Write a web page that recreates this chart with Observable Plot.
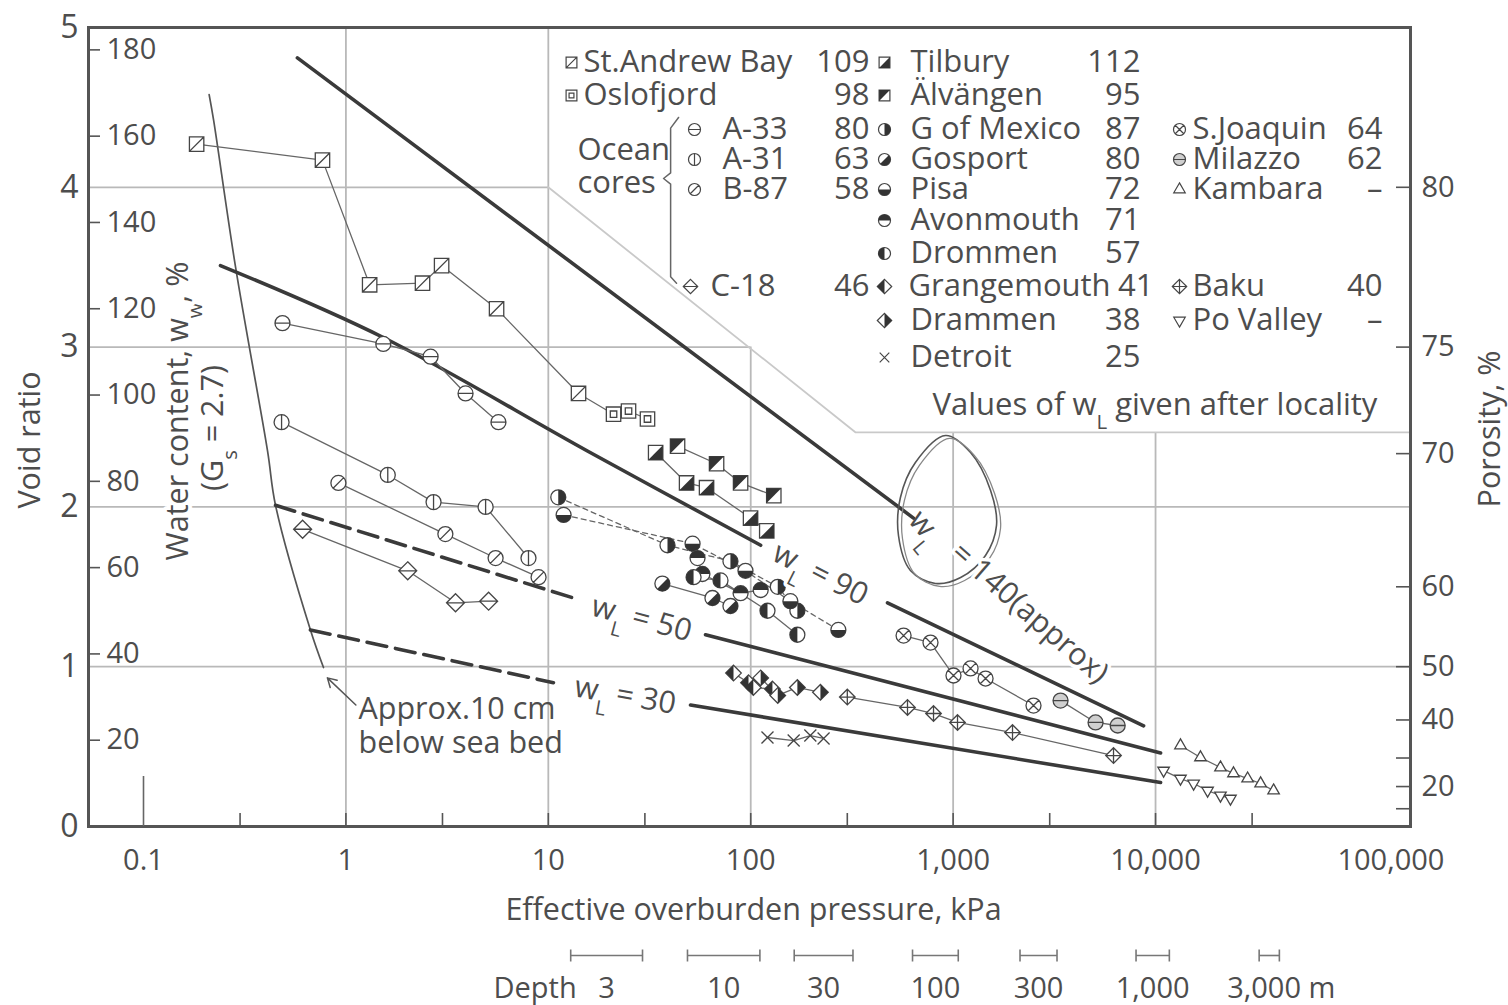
<!DOCTYPE html>
<html>
<head>
<meta charset="utf-8">
<script src="https://cdn.jsdelivr.net/npm/d3@7"></script>
<script src="https://cdn.jsdelivr.net/npm/@observablehq/plot@0.6"></script>
<style>
html,body{margin:0;padding:0;background:#fff;}
#chart svg{display:block;}
</style>
</head>
<body>
<div id="chart"></div>
<script>
// ---------------- axes / ticks ----------------
const xTickValues = [0.1, 1, 10, 100, 1000, 10000, 100000];
const xTickLabels = ["0.1", "1", "10", "100", "1,000", "10,000", "100,000"];
const xMinorTicks = [0.3, 1, 3, 10, 30, 100, 300, 1000, 3000, 10000, 30000];
const voidRatioTicks = [0, 1, 2, 3, 4, 5];
const waterContentTicks = [20, 40, 60, 80, 100, 120, 140, 160, 180];
const specificGravity = 2.7;
const porosityTicks = [10, 20, 30, 40, 50, 60, 70, 75, 80];
const porosityLabels = [20, 40, 50, 60, 70, 75, 80];

// ---------------- depth scale (kPa range for each depth) ----------------
const depthLabels = ["3", "10", "30", "100", "300", "1,000", "3,000 m"];
const depthLow = [12.9, 48.7, 164, 630, 2140, 8010, 32500];
const depthHigh = [29.2, 111, 320, 1060, 3260, 11700, 40900];

// ---------------- series: [effective overburden pressure (kPa), void ratio] ----------------
const seriesNames = ["St.Andrew Bay", "Oslofjord", "A-33", "A-31", "B-87", "C-18", "Tilbury", "Älvängen",
  "G of Mexico", "Gosport", "Pisa", "Avonmouth", "Drommen", "Grangemouth", "Drammen", "Detroit",
  "S.Joaquin", "Milazzo", "Kambara", "Baku", "Po Valley"];
const liquidLimits = ["109", "98", "80", "63", "58", "46", "112", "95", "87", "80", "72", "71", "57", "41", "38", "25",
  "64", "62", "–", "40", "–"];

const stAndrewBay = [[0.183, 4.27], [0.766, 4.17], [1.31, 3.39], [2.39, 3.40], [2.97, 3.51], [5.55, 3.24], [14.1, 2.71]];
const oslofjord = [[21.0, 2.58], [24.9, 2.60], [30.9, 2.55]];
const a33 = [[0.486, 3.15], [1.53, 3.02], [2.62, 2.94], [3.90, 2.71], [5.67, 2.53]];
const a31 = [[0.481, 2.53], [1.61, 2.20], [2.71, 2.03], [4.90, 2.00], [7.98, 1.68]];
const b87 = [[0.918, 2.15], [3.10, 1.83], [5.49, 1.68], [8.95, 1.56]];
const c18 = [[0.611, 1.86], [2.02, 1.60], [3.48, 1.40], [5.07, 1.41]];
const tilbury = [[33.9, 2.34], [48.2, 2.15], [60.5, 2.12], [99.8, 1.93], [120, 1.85]];
const alvangen = [[43.5, 2.38], [67.8, 2.27], [89.1, 2.15], [130, 2.07]];
const gMexico = [[11.2, 2.06], [38.8, 1.76], [79.4, 1.66], [136, 1.50], [170, 1.35]];
const gosport = [[36.6, 1.52], [64.7, 1.43], [79.4, 1.38]];
const pisa = [[11.9, 1.95], [51.6, 1.77], [94.2, 1.60], [157, 1.41], [271, 1.23]];
const avonmouth = [[54.6, 1.68], [57.7, 1.58], [89.1, 1.46], [112, 1.48]];
const drommen = [[52.2, 1.56], [70.9, 1.54], [121, 1.35], [170, 1.20]];
const grangemouth = [[82.2, 0.96], [97.5, 0.90], [103, 0.87], [128, 0.86]];
const drammen = [[112, 0.93], [136, 0.82], [170, 0.87], [221, 0.84]];
const detroit = [[121, 0.557], [163, 0.538], [197, 0.569], [229, 0.551]];
const sJoaquin = [[569, 1.195], [773, 1.151], [1004, 0.945], [1219, 0.989], [1446, 0.926], [2495, 0.757]];
const milazzo = [[3394, 0.788], [5054, 0.651], [6500, 0.632]];
const kambara = [[13280, 0.507], [16670, 0.432], [20930, 0.369], [24270, 0.332], [28500, 0.300], [33040, 0.269], [38300, 0.225]];
const baku = [[300, 0.81], [595, 0.745], [800, 0.707], [1051, 0.651], [1965, 0.588], [6200, 0.444]];
const poValley = [[10960, 0.350], [13280, 0.300], [15420, 0.269], [18080, 0.225], [20930, 0.194], [23450, 0.175]];

// ---------------- reference lines (liquid limit trends) ----------------
const wl140 = [[0.576, 4.81], [637, 1.93]];
const wl90a = [[0.240, 3.51], [1.53, 3.06], [15.6, 2.35], [112, 1.76]];
const wl90b = [[474, 1.40], [8730, 0.63]];
const wl50dashed = [[0.449, 2.01], [13.3, 1.43]];
const wl50 = [[59.8, 1.20], [10590, 0.46]];
const wl30dashed = [[0.668, 1.23], [10.6, 0.90]];
const wl30 = [[50.4, 0.76], [10590, 0.275]];
const seaBed = [[0.211, 4.58], [0.222, 4.42], [0.285, 3.50], [0.410, 2.35], [0.449, 2.01], [0.668, 1.23], [0.775, 0.995]];

// ---------------- annotation geometry (data space) ----------------
const gridVertical = [{at: 1, top: 5}, {at: 10, top: 5}, {at: 100, top: 3}, {at: 1000, top: 2.466}, {at: 10000, top: 2.466}];
const gridHorizontal = [{at: 1, right: 181800}, {at: 2, right: 181800}, {at: 3, right: 100}, {at: 4, right: 10}];
const legendBoundary = [[10, 4], [330, 2.466], [181800, 2.466]];
const wlLoop = [[917, 2.447], [1219, 2.34], [1531, 2.103], [1638, 1.884], [1445, 1.696], [1089, 1.558], [818, 1.521], [615, 1.602], [537, 1.821], [549, 2.059], [651, 2.278]];
const oceanBrace = [[44.0, 4.437], [40.2, 4.37], [40.2, 4.09], [37.1, 4.055], [40.2, 4.02], [40.2, 3.44], [43.0, 3.40]];
const seaBedArrow = [{x1: 1.12, y1: 0.76, x2: 0.81, y2: 0.93}];

// ---------------- rendering ----------------
const xDomain = [0.05349, 181800];
const FX = 88, FY = 27;
const C = {ink: "#3a3a3a", text: "#4d4d4d", grid: "#b9b9b9", sym: "#454545", symFill: "#333", thin: "#666"};
const FONT = 29, TITLE = 30.5, LEG = 31;
const X = d => d[0], Y = d => d[1];

const PI = Math.PI;
const mk = f => ({draw(c, size) { f(c, Math.sqrt(size / PI)); }});
const circ = (c, r) => { c.moveTo(r, 0); c.arc(0, 0, r, 0, 2 * PI); };
const sq = (c, r) => { const s = r * 0.9; c.moveTo(-s, -s); c.lineTo(s, -s); c.lineTo(s, s); c.lineTo(-s, s); c.closePath(); };
const dia = (c, r) => { const s = r * 1.2; c.moveTo(0, -s); c.lineTo(s, 0); c.lineTo(0, s); c.lineTo(-s, 0); c.closePath(); };
const SYM = {
  sqDiag: mk((c, r) => { sq(c, r); const s = r * 0.9; c.moveTo(-s, s); c.lineTo(s, -s); }),
  sqInner: mk((c, r) => { sq(c, r); sq(c, r * 0.45); }),
  circH: mk((c, r) => { circ(c, r); c.moveTo(-r, 0); c.lineTo(r, 0); }),
  circV: mk((c, r) => { circ(c, r); c.moveTo(0, -r); c.lineTo(0, r); }),
  circD: mk((c, r) => { circ(c, r); const k = r * 0.707; c.moveTo(-k, k); c.lineTo(k, -k); }),
  circX: mk((c, r) => { circ(c, r); const k = r * 0.707; c.moveTo(-k, k); c.lineTo(k, -k); c.moveTo(-k, -k); c.lineTo(k, k); }),
  circ: mk(circ),
  sq: mk(sq),
  dia: mk(dia),
  diaH: mk((c, r) => { dia(c, r); c.moveTo(-r * 1.2, 0); c.lineTo(r * 1.2, 0); }),
  diaPlus: mk((c, r) => { dia(c, r); c.moveTo(-r * 1.2, 0); c.lineTo(r * 1.2, 0); c.moveTo(0, -r * 1.2); c.lineTo(0, r * 1.2); }),
  triUp: mk((c, r) => { const s = r * 1.1; c.moveTo(0, -s); c.lineTo(s * 0.87, s * 0.5); c.lineTo(-s * 0.87, s * 0.5); c.closePath(); }),
  triDown: mk((c, r) => { const s = r * 1.1; c.moveTo(0, s); c.lineTo(s * 0.87, -s * 0.5); c.lineTo(-s * 0.87, -s * 0.5); c.closePath(); }),
  cross: mk((c, r) => { const k = r * 0.8; c.moveTo(-k, -k); c.lineTo(k, k); c.moveTo(-k, k); c.lineTo(k, -k); }),
  vbar: mk((c, r) => { c.moveTo(0, -r); c.lineTo(0, r); }),
  fRight: mk((c, r) => { c.moveTo(0, -r); c.arc(0, 0, r, -PI / 2, PI / 2); c.closePath(); }),
  fLeft: mk((c, r) => { c.moveTo(0, r); c.arc(0, 0, r, PI / 2, 3 * PI / 2); c.closePath(); }),
  fBottom: mk((c, r) => { c.moveTo(r, 0); c.arc(0, 0, r, 0, PI); c.closePath(); }),
  fTop: mk((c, r) => { c.moveTo(-r, 0); c.arc(0, 0, r, PI, 2 * PI); c.closePath(); }),
  fDiag: mk((c, r) => { c.moveTo(r * Math.cos(-PI / 4), r * Math.sin(-PI / 4)); c.arc(0, 0, r, -PI / 4, 3 * PI / 4); c.closePath(); }),
  fSqLR: mk((c, r) => { const s = r * 0.9; c.moveTo(s, -s); c.lineTo(s, s); c.lineTo(-s, s); c.closePath(); }),
  fSqUL: mk((c, r) => { const s = r * 0.9; c.moveTo(-s, -s); c.lineTo(s, -s); c.lineTo(-s, s); c.closePath(); }),
  fDiaL: mk((c, r) => { const s = r * 1.2; c.moveTo(0, -s); c.lineTo(0, s); c.lineTo(-s, 0); c.closePath(); }),
  fDiaR: mk((c, r) => { const s = r * 1.2; c.moveTo(0, -s); c.lineTo(s, 0); c.lineTo(0, s); c.closePath(); })
};

const seriesData = [stAndrewBay, oslofjord, a33, a31, b87, c18, tilbury, alvangen, gMexico, gosport, pisa,
  avonmouth, drommen, grangemouth, drammen, detroit, sJoaquin, milazzo, kambara, baku, poValley];
const seriesStyle = [
  {sym: "sqDiag", r: 8}, {sym: "sqInner", r: 8}, {sym: "circH"}, {sym: "circV"}, {sym: "circD"}, {sym: "diaH"},
  {sym: "sq", fill: "fSqLR", r: 8}, {sym: "sq", fill: "fSqUL", r: 8},
  {sym: "circ", fill: "fRight", dash: "5,4"}, {sym: "circ", fill: "fDiag"}, {sym: "circ", fill: "fBottom", dash: "5,4"},
  {sym: "circ", fill: "fTop"}, {sym: "circ", fill: "fLeft"}, {sym: "dia", fill: "fDiaL", r: 6.5}, {sym: "dia", fill: "fDiaR", r: 6.5},
  {sym: "cross"}, {sym: "circX"}, {sym: "circH", bg: "#cfcfcf"}, {sym: "triUp", r: 6}, {sym: "diaPlus", r: 6.5}, {sym: "triDown", r: 6}
];
const legendLayout = [["a", 0], ["a", 1], ["oc", 2], ["oc", 3], ["oc", 4], ["c18", 7],
  ["b", 0], ["b", 1], ["b", 2], ["b", 3], ["b", 4], ["b", 5], ["b", 6], ["bw", 7], ["b", 8], ["b", 9],
  ["c", 2], ["c", 3], ["c", 4], ["c", 7], ["c", 8]];
const legendCols = {
  a: {sym: 571, name: 583, val: 869}, oc: {sym: 694, name: 722, val: 869}, c18: {sym: 690, name: 710, val: 869},
  b: {sym: 884, name: 910, val: 1140}, bw: {sym: 884, name: 908, val: 1153}, c: {sym: 1179, name: 1192, val: 1382}
};
const legendRows = [62, 95, 129, 159, 189, 220, 253, 286, 320, 357];

const marks = [];
// grid
marks.push(Plot.ruleX(gridVertical, {x: d => d.at, y1: () => 0, y2: d => d.top, stroke: C.grid, strokeWidth: 1.8}));
marks.push(Plot.ruleY(gridHorizontal, {y: d => d.at, x1: () => xDomain[0], x2: d => d.right, stroke: C.grid, strokeWidth: 1.8}));
marks.push(Plot.line(legendBoundary, {x: X, y: Y, stroke: "#c9c9c9", strokeWidth: 1.8}));
marks.push(Plot.frame({stroke: "#555", strokeWidth: 3}));

// ticks
marks.push(Plot.ruleX(xMinorTicks, {x: d => d, insetTop: 786, stroke: "#555", strokeWidth: 1.6}));
marks.push(Plot.ruleX([0.1], {x: d => d, insetTop: 749, stroke: "#666", strokeWidth: 1.6}));
marks.push(Plot.ruleY(waterContentTicks, {y: d => d * specificGravity / 100, insetRight: 1310, stroke: "#555", strokeWidth: 1.6}));
marks.push(Plot.ruleY(porosityTicks, {y: n => n / (100 - n), insetLeft: 1308, stroke: "#555", strokeWidth: 1.6}));

// tick labels
const mid = {lineAnchor: "middle"};
marks.push(Plot.text(voidRatioTicks, {y: d => d, text: d => String(d), frameAnchor: "left", textAnchor: "end", dx: -10, fontSize: 32, fill: C.text, ...mid}));
marks.push(Plot.text(waterContentTicks, {y: d => d * specificGravity / 100, text: d => String(d), frameAnchor: "left", textAnchor: "start", dx: 18, fontSize: FONT, fill: C.text, ...mid}));
marks.push(Plot.text(porosityLabels, {y: n => n / (100 - n), text: d => String(d), frameAnchor: "right", textAnchor: "start", dx: 11, fontSize: FONT, fill: C.text, ...mid}));
marks.push(Plot.text(xTickValues.slice(0, 6), {x: d => d, text: (d, i) => xTickLabels[i], frameAnchor: "bottom", dy: 34, fontSize: FONT, fill: C.text, ...mid}));
marks.push(Plot.text(xTickValues.slice(6), {x: d => d, text: () => xTickLabels[6], frameAnchor: "bottom", dy: 34, dx: 33, fontSize: FONT, fill: C.text, ...mid}));

// axis titles
const halo = {stroke: "white", strokeWidth: 8, paintOrder: "stroke"};
marks.push(Plot.text(["Void ratio"], {text: d => d, frameAnchor: "left", textAnchor: "middle", dx: -58, dy: 13, rotate: -90, fontSize: TITLE, fill: C.text, ...mid}));
marks.push(Plot.text(["Water content, w_w, %"], {text: d => d, frameAnchor: "left", textAnchor: "middle", dx: 90, dy: -16, rotate: -90, fontSize: TITLE, fill: C.text, ...halo, ...mid}));
marks.push(Plot.text(["(G_s = 2.7)"], {text: d => d, frameAnchor: "left", textAnchor: "middle", dx: 125, dy: 1, rotate: -90, fontSize: TITLE, fill: C.text, ...halo, ...mid}));
marks.push(Plot.text(["Porosity, %"], {text: d => d, frameAnchor: "right", textAnchor: "middle", dx: 80, dy: 2, rotate: -90, fontSize: TITLE, fill: C.text, ...mid}));
marks.push(Plot.text(["Effective overburden pressure, kPa"], {text: d => d, frameAnchor: "bottom", textAnchor: "middle", dx: 4, dy: 84, fontSize: TITLE, fill: C.text, ...mid}));

// depth scale
const depthIdx = d3.range(depthLabels.length);
marks.push(Plot.link(depthIdx, {x1: i => depthLow[i], x2: i => depthHigh[i], y1: () => 0, y2: () => 0, dy: 129, stroke: "#777", strokeWidth: 1.6}));
marks.push(Plot.dot(depthIdx, {x: i => depthLow[i], y: () => 0, dy: 129, symbol: SYM.vbar, r: 6, fill: "none", stroke: "#777", strokeWidth: 1.6}));
marks.push(Plot.dot(depthIdx, {x: i => depthHigh[i], y: () => 0, dy: 129, symbol: SYM.vbar, r: 6, fill: "none", stroke: "#777", strokeWidth: 1.6}));
marks.push(Plot.text(depthIdx.slice(0, 6), {x: i => Math.sqrt(depthLow[i] * depthHigh[i]), y: () => 0, dy: 162, text: i => depthLabels[i], fontSize: FONT, fill: C.text}));
marks.push(Plot.text(depthIdx.slice(6), {x: i => Math.sqrt(depthLow[i] * depthHigh[i]), y: () => 0, dy: 162, dx: 12, text: i => depthLabels[i], fontSize: FONT, fill: C.text}));
marks.push(Plot.text(["Depth"], {x: () => depthLow[0], y: () => 0, dy: 162, dx: 6, textAnchor: "end", text: d => d, fontSize: FONT, fill: C.text}));

// reference lines
const thick = {x: X, y: Y, stroke: C.ink, strokeWidth: 3.6};
marks.push(Plot.line(seaBed, {x: X, y: Y, stroke: "#555", strokeWidth: 1.7, curve: "catmull-rom"}));
marks.push(Plot.line(wl140, thick));
marks.push(Plot.line(wl90a, {...thick, curve: "catmull-rom"}));
marks.push(Plot.line(wl90b, thick));
marks.push(Plot.line(wl50dashed, {...thick, strokeDasharray: "20,9"}));
marks.push(Plot.line(wl50, thick));
marks.push(Plot.line(wl30dashed, {...thick, strokeDasharray: "20,9"}));
marks.push(Plot.line(wl30, thick));
marks.push(Plot.line(wlLoop, {x: X, y: Y, curve: "catmull-rom-closed", stroke: "#555", strokeWidth: 1.6}));
marks.push(Plot.line(wlLoop, {x: X, y: Y, curve: "catmull-rom-closed", stroke: "#888", strokeWidth: 1.3, dx: 4, dy: 3}));
marks.push(Plot.line(oceanBrace, {x: X, y: Y, stroke: "#666", strokeWidth: 1.5, curve: "linear"}));
marks.push(Plot.arrow(seaBedArrow, {x1: "x1", y1: "y1", x2: "x2", y2: "y2", stroke: "#555", strokeWidth: 1.5, headLength: 10}));

// series lines
marks.push(Plot.line(stAndrewBay.concat(oslofjord), {x: X, y: Y, stroke: C.thin, strokeWidth: 1.3}));
seriesData.forEach((data, i) => {
  if (i <= 1) return;
  const st = seriesStyle[i];
  marks.push(Plot.line(data, {x: X, y: Y, stroke: C.thin, strokeWidth: 1.3, strokeDasharray: st.dash || null}));
});
// series symbols
seriesData.forEach((data, i) => {
  const st = seriesStyle[i];
  const r = st.r || 7.5;
  marks.push(Plot.dot(data, {x: X, y: Y, symbol: SYM[st.sym], r, fill: st.bg || "white", stroke: C.sym, strokeWidth: 1.3}));
  if (st.fill) marks.push(Plot.dot(data, {x: X, y: Y, symbol: SYM[st.fill], r, fill: C.symFill, stroke: "none"}));
});

// in-plot labels
const lbl = {fontSize: TITLE, fill: C.text, stroke: "white", strokeWidth: 7, paintOrder: "stroke"};
marks.push(Plot.text(["w_L = 90"], {x: () => 221, y: () => 1.58, rotate: 27, text: d => d, ...lbl}));
marks.push(Plot.text(["w_L = 50"], {x: () => 28.9, y: () => 1.30, rotate: 15, text: d => d, ...lbl}));
marks.push(Plot.text(["w_L = 30"], {x: () => 24.0, y: () => 0.82, rotate: 10, text: d => d, ...lbl}));
marks.push(Plot.text(["w_L"], {x: () => 731, y: () => 1.87, rotate: 50, text: d => d, fontSize: TITLE, fill: C.text}));
marks.push(Plot.text(["= 140(approx)"], {x: () => 1028, y: () => 1.74, rotate: 41, textAnchor: "start", text: d => d, ...lbl}));
marks.push(Plot.text(["Approx.10 cm\nbelow sea bed"], {x: () => 1.154, y: () => 0.635, textAnchor: "start", lineHeight: 1.1, text: d => d, fontSize: TITLE, fill: C.text}));

// legend
const legText = {frameAnchor: "top-left", fontSize: LEG, fill: C.text, lineAnchor: "middle"};
legendLayout.forEach(([col, row], i) => {
  const L = legendCols[col], st = seriesStyle[i];
  const dy = legendRows[row] - FY;
  marks.push(Plot.dot([0], {frameAnchor: "top-left", dx: L.sym - FX, dy, symbol: SYM[st.sym], r: 6, fill: st.bg || "white", stroke: C.sym, strokeWidth: 1.2}));
  if (st.fill) marks.push(Plot.dot([0], {frameAnchor: "top-left", dx: L.sym - FX, dy, symbol: SYM[st.fill], r: 6, fill: C.symFill, stroke: "none"}));
  marks.push(Plot.text([seriesNames[i]], {...legText, dx: L.name - FX, dy, text: d => d, textAnchor: "start"}));
  marks.push(Plot.text([liquidLimits[i]], {...legText, dx: L.val - FX, dy, text: d => d, textAnchor: "end"}));
});
marks.push(Plot.text(["Ocean"], {...legText, dx: 577 - FX, dy: 150 - FY, text: d => d, textAnchor: "start"}));
marks.push(Plot.text(["cores"], {...legText, dx: 577 - FX, dy: 183 - FY, text: d => d, textAnchor: "start"}));
marks.push(Plot.text(["Values of w_L given after locality"], {...legText, dx: 932 - FX, dy: 405 - FY, text: d => d, textAnchor: "start"}));

const chart = Plot.plot({
  width: 1508, height: 1005,
  marginTop: FY, marginBottom: 179, marginLeft: FX, marginRight: 98,
  x: {type: "log", domain: xDomain, axis: null},
  y: {type: "linear", domain: [0, 5], axis: null},
  style: {fontFamily: "'Open Sans', sans-serif", background: "#fff", color: C.text, overflow: "visible"},
  marks
});
document.getElementById("chart").append(chart);

// subscripts (w_L, w_w, G_s)
chart.querySelectorAll("text, tspan").forEach(t => {
  if (t.childElementCount === 0 && t.textContent.includes("_")) {
    t.innerHTML = t.textContent.replace(/_(\w)/g, '<tspan baseline-shift="sub" font-size="66%">$1</tspan>');
  }
});
</script>
</body>
</html>
